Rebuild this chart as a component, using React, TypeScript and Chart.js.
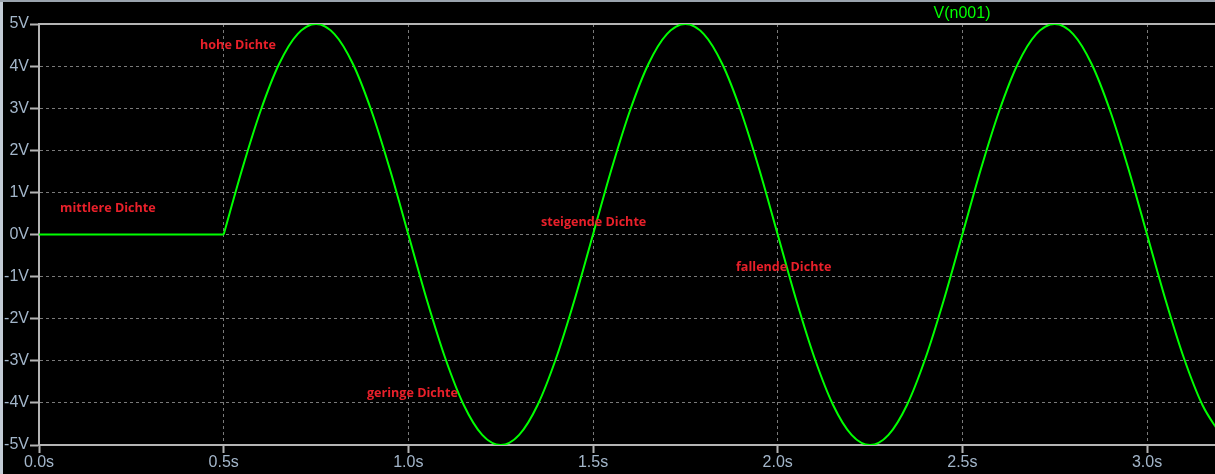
import React, { useEffect, useRef } from "react";
import { Chart, registerables } from "chart.js";

Chart.register(...registerables);

const seriesLabel = "V(n001)";
const times = [
  0, 0.5, 0.55, 0.6, 0.65, 0.7, 0.75, 0.8, 0.85, 0.9, 0.95,
  1.0, 1.05, 1.1, 1.15, 1.2, 1.25, 1.3, 1.35, 1.4, 1.45,
  1.5, 1.55, 1.6, 1.65, 1.7, 1.75, 1.8, 1.85, 1.9, 1.95,
  2.0, 2.05, 2.1, 2.15, 2.2, 2.25, 2.3, 2.35, 2.4, 2.45,
  2.5, 2.55, 2.6, 2.65, 2.7, 2.75, 2.8, 2.85, 2.9, 2.95,
  3.0, 3.05, 3.1, 3.15, 3.2,
];
const volts = [
  0, 0, 1.55, 2.94, 4.05, 4.76, 5.0, 4.76, 4.05, 2.94, 1.55,
  0, -1.55, -2.94, -4.05, -4.76, -5.0, -4.76, -4.05, -2.94, -1.55,
  0, 1.55, 2.94, 4.05, 4.76, 5.0, 4.76, 4.05, 2.94, 1.55,
  0, -1.55, -2.94, -4.05, -4.76, -5.0, -4.76, -4.05, -2.94, -1.55,
  0, 1.55, 2.94, 4.05, 4.76, 5.0, 4.76, 4.05, 2.94, 1.55,
  0, -1.55, -2.94, -4.05, -4.76,
];
// index where the source switches on (flat before, wave after)
const switchOnIndex = 1;
const xTicks = [0, 0.5, 1.0, 1.5, 2.0, 2.5, 3.0];
const xTickLabels = ["0.0s", "0.5s", "1.0s", "1.5s", "2.0s", "2.5s", "3.0s"];
const yTicks = [-5, -4, -3, -2, -1, 0, 1, 2, 3, 4, 5];
const yTickLabels = ["-5V", "-4V", "-3V", "-2V", "-1V", "0V", "1V", "2V", "3V", "4V", "5V"];
const noteTexts = ["hohe Dichte", "mittlere Dichte", "steigende Dichte", "fallende Dichte", "geringe Dichte"];
const noteTimes = [0.436, 0.057, 1.359, 1.887, 0.888];
const noteVolts = [4.5, 0.61, 0.28, -0.79, -3.78];

const X_MIN = 0;
const X_MAX = 3.184;

const TICK_COLOR = "#a3b6ca";
const AXIS_COLOR = "#b4b4b4";
const GRID_COLOR = "#7a7a7a";
const TRACE_COLOR = "#00ff00";
const NOTE_COLOR = "#e8202a";
const FONT = "'Liberation Sans', Arial, sans-serif";

const framePlugin = {
  id: "ltspiceFrame",
  beforeDraw(chart: any) {
    const { ctx, width, height } = chart;
    ctx.save();
    ctx.fillStyle = "#000000";
    ctx.fillRect(0, 0, width, height);
    ctx.fillStyle = "#c3ccd6";
    ctx.fillRect(0, 0, 3, height);
    ctx.fillStyle = "#9aa3ad";
    ctx.fillRect(0, 0, width, 2);
    ctx.restore();
  },
  beforeDatasetsDraw(chart: any) {
    const { ctx, chartArea } = chart;
    ctx.save();
    ctx.strokeStyle = AXIS_COLOR;
    ctx.lineWidth = 2;
    ctx.beginPath();
    ctx.moveTo(chartArea.left, chartArea.top);
    ctx.lineTo(chartArea.right, chartArea.top);
    ctx.stroke();
    ctx.restore();
  },
  afterDatasetsDraw(chart: any) {
    const { ctx } = chart;
    const xs = chart.scales.x;
    const ys = chart.scales.y;
    ctx.save();
    ctx.fillStyle = NOTE_COLOR;
    ctx.font = "bold 12.6px 'Open Sans', sans-serif";
    ctx.textAlign = "left";
    ctx.textBaseline = "middle";
    noteTexts.forEach((t, i) => {
      ctx.fillText(t, xs.getPixelForValue(noteTimes[i]), ys.getPixelForValue(noteVolts[i]));
    });
    ctx.fillStyle = TRACE_COLOR;
    ctx.font = `16px ${FONT}`;
    ctx.textAlign = "center";
    ctx.fillText(chart.data.datasets[0].label, 962, 14);
    ctx.restore();
  },
};

export default function App() {
  const ref = useRef<HTMLCanvasElement | null>(null);
  useEffect(() => {
    if (!ref.current) return;
    const points = times.map((t, i) => ({ x: t, y: volts[i] }));
    const common = {
      borderColor: TRACE_COLOR,
      borderWidth: 2,
      pointRadius: 0,
      cubicInterpolationMode: "monotone",
      fill: false,
    };
    const chart = new Chart(ref.current, {
      type: "line",
      data: {
        datasets: [
          { label: seriesLabel, data: points.slice(switchOnIndex), ...common },
          { label: seriesLabel, data: points.slice(0, switchOnIndex + 1), ...common },
        ],
      },
      options: {
        animation: false,
        responsive: false,
        devicePixelRatio: 1,
        layout: { padding: { top: 24, left: 0, right: 0, bottom: 0 } },
        plugins: { legend: { display: false }, tooltip: { enabled: false } },
        scales: {
          x: {
            type: "linear",
            min: X_MIN,
            max: X_MAX,
            afterBuildTicks: (s: any) => {
              s.ticks = xTicks.map((v) => ({ value: v }));
            },
            afterFit: (s: any) => {
              s.height = 29;
              s.paddingLeft = 0;
              s.paddingRight = 0;
            },
            ticks: {
              color: TICK_COLOR,
              font: { family: FONT, size: 16 },
              padding: 0,
              maxRotation: 0,
              autoSkip: false,
              callback: (_v: any, i: number) => xTickLabels[i],
            },
            grid: {
              color: GRID_COLOR,
              lineWidth: 1,
              tickColor: AXIS_COLOR,
              tickLength: 8,
              tickWidth: 2,
            },
            border: { display: true, color: AXIS_COLOR, width: 2, dash: [3, 3] },
          },
          y: {
            type: "linear",
            min: -5,
            max: 5,
            afterBuildTicks: (s: any) => {
              s.ticks = yTicks.map((v) => ({ value: v }));
            },
            afterFit: (s: any) => {
              s.width = 39;
              s.paddingTop = 0;
              s.paddingBottom = 0;
            },
            ticks: {
              color: TICK_COLOR,
              font: { family: FONT, size: 16 },
              padding: 1,
              autoSkip: false,
              callback: (_v: any, i: number) => yTickLabels[i],
            },
            grid: {
              color: GRID_COLOR,
              lineWidth: 1,
              tickColor: AXIS_COLOR,
              tickLength: 9,
              tickWidth: 2,
            },
            border: { display: true, color: AXIS_COLOR, width: 2, dash: [3, 3] },
          },
        },
      },
      plugins: [framePlugin],
    } as any);
    return () => chart.destroy();
  }, []);
  return (
    <div style={{ position: "fixed", left: 0, top: 0, width: 1215, height: 474, background: "#000" }}>
      <canvas ref={ref} width={1215} height={474} style={{ display: "block", width: 1215, height: 474 }} />
    </div>
  );
}
